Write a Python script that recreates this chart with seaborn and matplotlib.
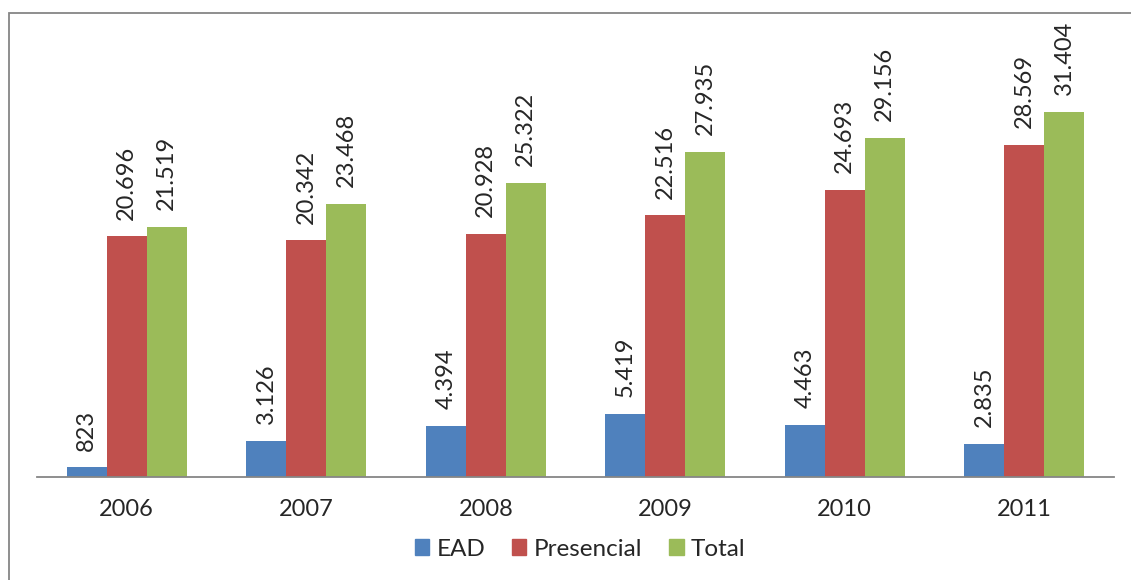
import seaborn as sns
import matplotlib.pyplot as plt
import pandas as pd
import numpy as np
from matplotlib.patches import Rectangle

anos = ['2006', '2007', '2008', '2009', '2010', '2011']
ead = [823, 3126, 4394, 5419, 4463, 2835]
presencial = [20696, 20342, 20928, 22516, 24693, 28569]
total = [21519, 23468, 25322, 27935, 29156, 31404]
series = ['EAD', 'Presencial', 'Total']
cores = ['#4F81BD', '#C0504D', '#9BBB59']

df = pd.DataFrame({'Ano': anos * 3,
                   'Serie': np.repeat(series, len(anos)),
                   'Valor': ead + presencial + total})

sns.set_style('white')
plt.rcParams['font.family'] = ['Lato', 'DejaVu Sans']

fig = plt.figure(figsize=(11.31, 5.8), dpi=100)
ax = fig.add_axes([37 / 1131, 103 / 580, 1077 / 1131, 407 / 580])

sns.barplot(data=df, x='Ano', y='Valor', hue='Serie', palette=cores,
            width=0.668, linewidth=0, saturation=1, ax=ax, errorbar=None)

# data labels, brazilian thousands separator
for cont in ax.containers:
    ax.bar_label(cont, labels=[f'{v:,.0f}'.replace(',', '.') for v in cont.datavalues],
                 rotation=90, padding=12, fontsize=17)

ax.set_ylim(0, 35000)
ax.set_xlim(-0.5, 5.5)
ax.set_yticks([])
ax.set_xlabel('')
ax.set_ylabel('')
for s in ['left', 'right', 'top']:
    ax.spines[s].set_visible(False)
ax.spines['bottom'].set_color('#868686')
ax.spines['bottom'].set_linewidth(1.3)

ax.set_xticks(range(len(anos)))
ax.set_xticklabels(anos, fontsize=17)
ax.tick_params(axis='x', which='major', length=0, pad=16)
ax.set_xticks(np.arange(-0.5, len(anos)), minor=True)
ax.tick_params(axis='x', which='minor', length=8, width=1.3, color='#868686', direction='out')

ax.legend_.remove()
handles = [Rectangle((0, 0), 1, 1, color=c) for c in cores]
fig.legend(handles, series, loc='center', bbox_to_anchor=(580 / 1131, 1 - 549 / 580),
           ncol=3, frameon=False, fontsize=17.5, handlelength=0.6, handleheight=0.6,
           handletextpad=0.3, columnspacing=1.1)

# chart border
fig.patches.append(Rectangle((8.5 / 1131, -0.1), 1.2, 1 - 12.5 / 580 + 0.1,
                             transform=fig.transFigure, fill=False,
                             edgecolor='#868686', linewidth=1.3))

fig.savefig('out.png', dpi=100)
